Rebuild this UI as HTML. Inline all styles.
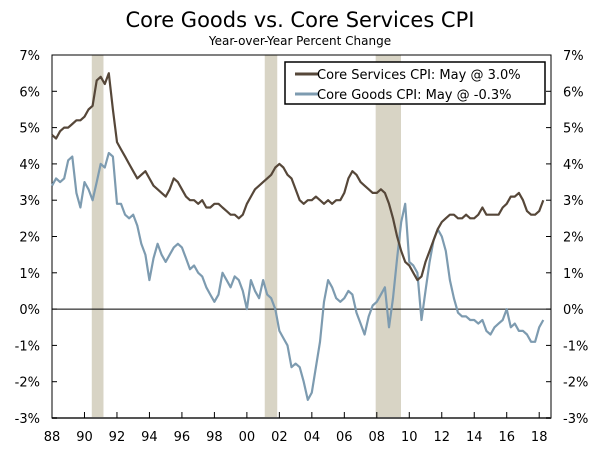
<!DOCTYPE html>
<html><head><meta charset="utf-8"><style>
body{margin:0;background:#fff;}
svg text{font-family:"DejaVu Sans","Liberation Sans",sans-serif;}
</style></head><body>
<svg id="chart" width="600" height="448">
<text x="300" y="27" text-anchor="middle" font-size="21" fill="#000">Core Goods vs. Core Services CPI</text>
<text x="300" y="45" text-anchor="middle" font-size="12" fill="#000">Year-over-Year Percent Change</text>
<g id="plot"></g>
</svg>
<script>
const yTicks=[7,6,5,4,3,2,1,0,-1,-2,-3];
const xTickYears=[1988,1990,1992,1994,1996,1998,2000,2002,2004,2006,2008,2010,2012,2014,2016,2018];
const xTickLabels=["88","90","92","94","96","98","00","02","04","06","08","10","12","14","16","18"];
const recessionStarts=[1990.45,2001.1,2007.93];
const recessionEnds=[1991.17,2001.87,2009.49];
const startYear=1988.0;
const step=0.25;
const services=[4.8,4.7,4.9,5.0, 5.0,5.1,5.2,5.2, 5.3,5.5,5.6,6.3, 6.4,6.2,6.5,5.5, 4.6,4.4,4.2,4.0, 3.8,3.6,3.7,3.8, 3.6,3.4,3.3,3.2, 3.1,3.3,3.6,3.5, 3.3,3.1,3.0,3.0, 2.9,3.0,2.8,2.8, 2.9,2.9,2.8,2.7, 2.6,2.6,2.5,2.6, 2.9,3.1,3.3,3.4, 3.5,3.6,3.7,3.9, 4.0,3.9,3.7,3.6, 3.3,3.0,2.9,3.0, 3.0,3.1,3.0,2.9, 3.0,2.9,3.0,3.0, 3.2,3.6,3.8,3.7, 3.5,3.4,3.3,3.2, 3.2,3.3,3.2,2.9, 2.5,2.0,1.6,1.3, 1.2,1.0,0.8,0.9, 1.3,1.6,1.9,2.2, 2.4,2.5,2.6,2.6, 2.5,2.5,2.6,2.5, 2.5,2.6,2.8,2.6, 2.6,2.6,2.6,2.8, 2.9,3.1,3.1,3.2, 3.0,2.7,2.6,2.6, 2.7,3.0];
const goods=[3.4,3.6,3.5,3.6, 4.1,4.2,3.2,2.8, 3.5,3.3,3.0,3.5, 4.0,3.9,4.3,4.2, 2.9,2.9,2.6,2.5, 2.6,2.3,1.8,1.5, 0.8,1.4,1.8,1.5, 1.3,1.5,1.7,1.8, 1.7,1.4,1.1,1.2, 1.0,0.9,0.6,0.4, 0.2,0.4,1.0,0.8, 0.6,0.9,0.8,0.5, 0.0,0.8,0.5,0.3, 0.8,0.4,0.3,0.0, -0.6,-0.8,-1.0,-1.6, -1.5,-1.6,-2.0,-2.5, -2.3,-1.6,-0.9,0.2, 0.8,0.6,0.3,0.2, 0.3,0.5,0.4,-0.1, -0.4,-0.7,-0.2,0.1, 0.2,0.4,0.6,-0.5, 0.3,1.4,2.4,2.9, 1.3,1.2,1.0,-0.3, 0.5,1.3,1.9,2.2, 2.0,1.6,0.8,0.3, -0.1,-0.2,-0.2,-0.3, -0.3,-0.4,-0.3,-0.6, -0.7,-0.5,-0.4,-0.3, 0.0,-0.5,-0.4,-0.6, -0.6,-0.7,-0.9,-0.9, -0.5,-0.3];

const L=52,R=551,T=55,B=418;
const X=yr=>L+(yr-1988)*16.24;
const Y=v=>T+(7-v)*(B-T)/10;
const NS="http://www.w3.org/2000/svg";
const g=document.getElementById('plot');
function mk(tag,attrs){const e=document.createElementNS(NS,tag);for(const k in attrs)e.setAttribute(k,attrs[k]);g.appendChild(e);return e;}

recessionStarts.forEach((s,i)=>{
  const r=mk('rect',{x:X(s),y:T,width:X(recessionEnds[i])-X(s),height:B-T,fill:'#d8d4c5'});
  
  
});
let f=mk('rect',{x:L,y:T,width:R-L,height:B-T,fill:'none',stroke:'#000','stroke-width':1});


let z=mk('line',{x1:L,x2:R,y1:Y(0),y2:Y(0),stroke:'#000','stroke-width':1});


let bx=mk('line',{x1:L,x2:R,y1:B,y2:B,stroke:'#555','stroke-width':2});



yTicks.forEach(v=>{
  const y=Y(v);
  mk('line',{x1:L,x2:L+5,y1:y,y2:y,stroke:'#000'});
  mk('line',{x1:R-5,x2:R,y1:y,y2:y,stroke:'#000'});
  const t1=mk('text',{x:40,y:y+5,'text-anchor':'end','font-size':13,fill:'#000'});
  t1.textContent=v+'%';
  
  
  const t2=mk('text',{x:563,y:y+5,'text-anchor':'start','font-size':13,fill:'#000'});
  t2.textContent=v+'%';
  
  
});
xTickYears.forEach((yr,i)=>{
  const x=X(yr);
  mk('line',{x1:x,x2:x,y1:B-6,y2:B,stroke:'#000'});
  const t=mk('text',{x:x,y:441,'text-anchor':'middle','font-size':13,fill:'#000'});
  t.textContent=xTickLabels[i];
  
  
});
function line(arr,color,name){
  const d=arr.map((v,i)=>(i?'L':'M')+X(startYear+i*step).toFixed(1)+','+Y(v).toFixed(1)).join('');
  const p=mk('path',{d:d,fill:'none',stroke:color,'stroke-width':2.2,'stroke-linejoin':'round'});
  
  
}
line(goods,'#7d9bb0','core-goods-line');
line(services,'#564739','core-services-line');

const lg=mk('rect',{x:285,y:62,width:260,height:42,fill:'#fff',stroke:'#000','stroke-width':1.5});


mk('line',{x1:295,x2:318,y1:74,y2:74,stroke:'#564739','stroke-width':3});
mk('line',{x1:295,x2:318,y1:94,y2:94,stroke:'#7d9bb0','stroke-width':3});
const l1=mk('text',{x:317,y:79,'font-size':13,fill:'#000'});
l1.textContent='Core Services CPI: May @ 3.0%';


const l2=mk('text',{x:317,y:99,'font-size':13,fill:'#000'});
l2.textContent='Core Goods CPI: May @ -0.3%';


</script>
</body></html>
